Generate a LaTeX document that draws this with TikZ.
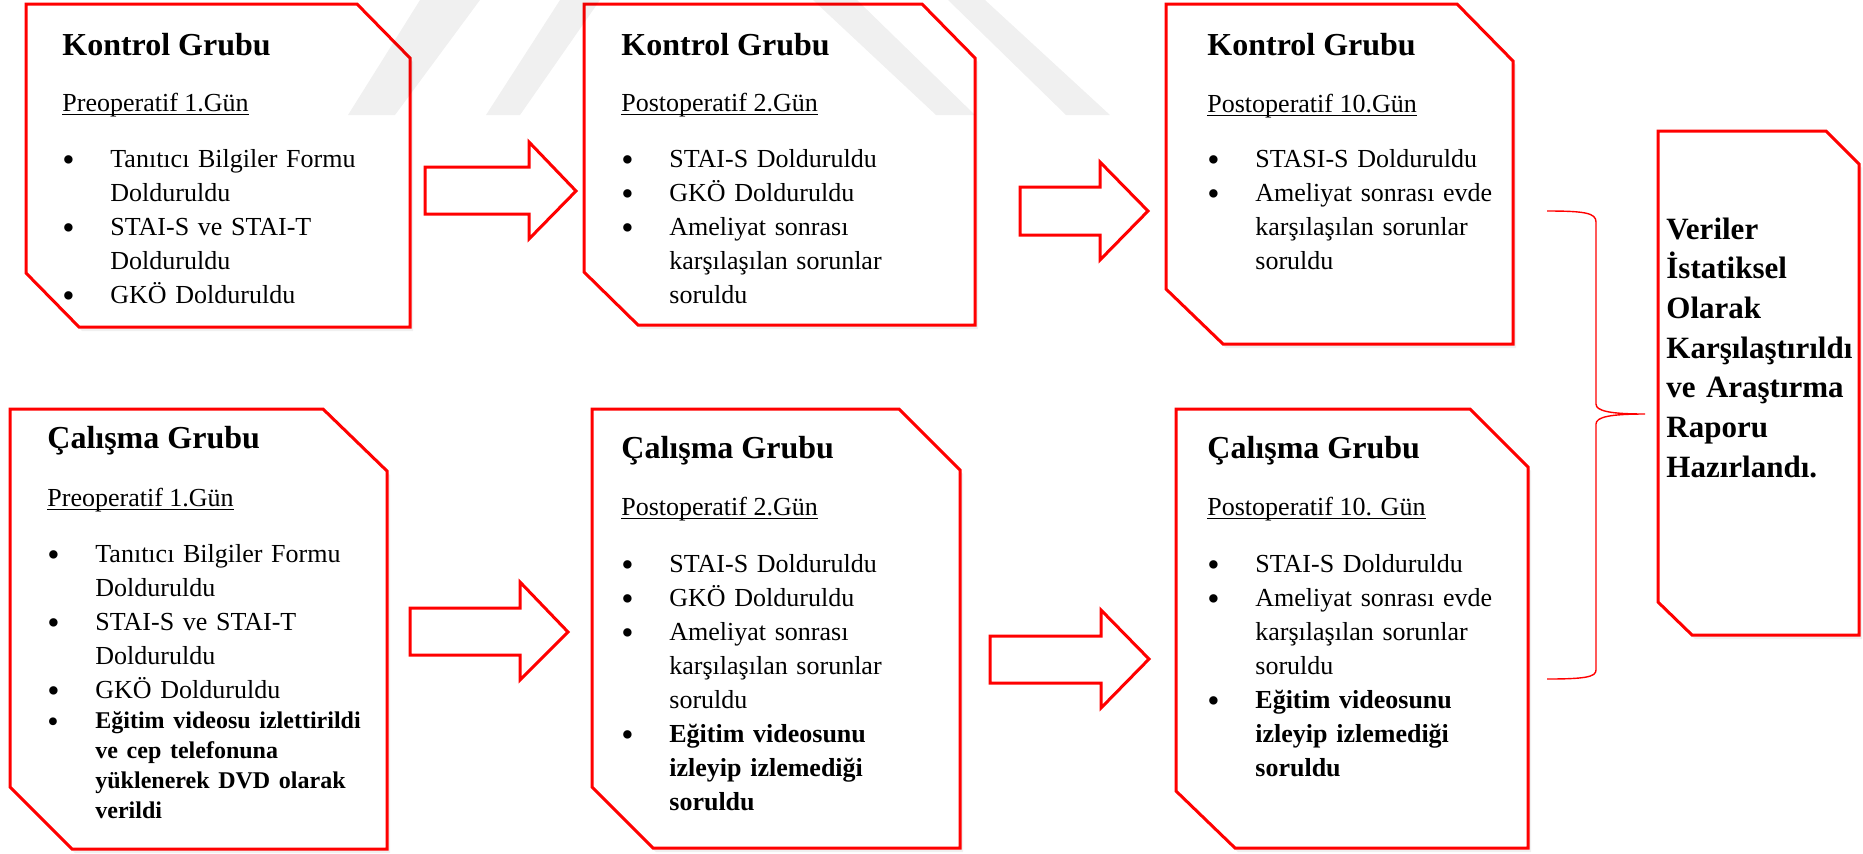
\documentclass[tikz,border=0pt]{standalone}
\usepackage{graphicx}
\usepackage{fontspec}
\setmainfont{Liberation Serif}
\usetikzlibrary{shadows}

\newcommand{\imi}{\raisebox{-2.1pt}{\scalebox{1.35}{\textbullet}}}
\newcommand{\madde}[1]{\hangindent=24pt\hangafter=1\noindent\makebox[24pt][l]{\imi}#1\par}
\newcommand{\kucukmadde}[1]{\begingroup\fontsize{12}{15}\selectfont\madde{\bfseries #1}\endgroup}
\newcommand{\altcizgi}[1]{\setbox0=\hbox{#1}\rlap{\rule[-2pt]{\wd0}{.7pt}}\box0}

\tikzset{
  kart/.style={draw=red, line width=1.5pt, fill=white,
    drop shadow={shadow xshift=1.5pt, shadow yshift=-2pt, opacity=.12}},
  ok/.style={draw=red, line width=1.5pt, fill=white},
  filigran/.style={fill=black, opacity=.06},
  parantez/.style={draw=red, line width=.7pt},
  baslik/.style={anchor=base west, inner sep=0pt, font=\fontsize{16}{19}\selectfont\bfseries},
  tarih/.style={anchor=base west, inner sep=0pt, font=\fontsize{13}{16}\selectfont},
  liste/.style={anchor=base west, inner sep=0pt, align=left, text width=200pt,
    font=\fontsize{13}{17}\selectfont},
  sonuc/.style={anchor=base west, inner sep=0pt, align=left, text width=120pt,
    font=\fontsize{15.5}{19.85}\selectfont\bfseries},
}

\begin{document}
\begin{tikzpicture}[x=0.5pt,y=-0.5pt]
\useasboundingbox (0,0) rectangle (1863,853);
% kartlar
\draw[kart] (26,4)--(357,4)--(410,58)--(410,327)--(79,327)--(26,273)--cycle;
\draw[kart] (584,4)--(922,4)--(975,58)--(975,325)--(638,325)--(584,272)--cycle;
\draw[kart] (1166,4)--(1457,4)--(1513,61)--(1513,344)--(1223,344)--(1166,289)--cycle;
\draw[kart] (10,409)--(323,409)--(387,471)--(387,849)--(72,849)--(10,787)--cycle;
\draw[kart] (592,409)--(899,409)--(960,470)--(960,848)--(653,848)--(592,787)--cycle;
\draw[kart] (1176,409)--(1470,409)--(1528,467)--(1528,848)--(1235,848)--(1176,791)--cycle;
\draw[kart] (1658,131)--(1826,131)--(1859,164)--(1859,635)--(1692,635)--(1658,602)--cycle;
% filigran
\fill[filigran] (348,115)--(395,115)--(480,0)--(420,0)--cycle;
\fill[filigran] (486,115)--(520,115)--(600,0)--(560,0)--cycle;
\fill[filigran] (813,0)--(857,0)--(975,115)--(936,115)--cycle;
\fill[filigran] (948,0)--(985,0)--(1110,115)--(1066,115)--cycle;
% oklar
\draw[ok] (425,167)--(529,167)--(529,142)--(576,191)--(529,239)--(529,214)--(425,214)--cycle;
\draw[ok] (1020,187)--(1100,187)--(1100,162)--(1148,211)--(1100,260)--(1100,235)--(1020,235)--cycle;
\draw[ok] (410,608)--(520,608)--(520,582)--(568,632)--(520,680)--(520,655)--(410,655)--cycle;
\draw[ok] (990,636)--(1101,636)--(1101,610)--(1149,659)--(1101,708)--(1101,683)--(990,683)--cycle;
% parantez
\draw[parantez] (1547,211) .. controls (1585,211) and (1596,213) .. (1596,222)
  -- (1596,404) .. controls (1596,411) and (1610,414) .. (1645,414)
  .. controls (1610,414) and (1596,417) .. (1596,424)
  -- (1596,670) .. controls (1596,677) and (1585,679) .. (1547,679);
%
\node[baslik] (k1b) at (62,55) {Kontrol Grubu};
\node[tarih] (k1t) at (62,111) {\altcizgi{Preoperatif 1.Gün}};
\node[liste] (k1l) at (62,167) {\madde{Tanıtıcı Bilgiler Formu\newline Dolduruldu}
  \madde{STAI-S ve STAI-T\newline Dolduruldu}\madde{GKÖ Dolduruldu}};
%
\node[baslik] (k2b) at (621,55) {Kontrol Grubu};
\node[tarih] (k2t) at (621,111) {\altcizgi{Postoperatif 2.Gün}};
\node[liste] (k2l) at (621,167) {\madde{STAI-S Dolduruldu}\madde{GKÖ Dolduruldu}
  \madde{Ameliyat sonrası\newline karşılaşılan sorunlar\newline soruldu}};
%
\node[baslik] (k3b) at (1207,55) {Kontrol Grubu};
\node[tarih] (k3t) at (1207,112) {\altcizgi{Postoperatif 10.Gün}};
\node[liste] (k3l) at (1207,167) {\madde{STASI-S Dolduruldu}
  \madde{Ameliyat sonrası evde\newline karşılaşılan sorunlar\newline soruldu}};
%
\node[baslik] (c1b) at (47,448) {Çalışma Grubu};
\node[tarih] (c1t) at (47,506) {\altcizgi{Preoperatif 1.Gün}};
\node[liste] (c1l) at (47,562) {\madde{Tanıtıcı Bilgiler Formu\newline Dolduruldu}
  \madde{STAI-S ve STAI-T\newline Dolduruldu}\madde{GKÖ Dolduruldu}
  \kucukmadde{Eğitim videosu izlettirildi\newline ve cep telefonuna\newline
  yüklenerek DVD olarak\newline verildi}};
%
\node[baslik] (c2b) at (621,458) {Çalışma Grubu};
\node[tarih] (c2t) at (621,515) {\altcizgi{Postoperatif 2.Gün}};
\node[liste] (c2l) at (621,572) {\madde{STAI-S Dolduruldu}\madde{GKÖ Dolduruldu}
  \madde{Ameliyat sonrası\newline karşılaşılan sorunlar\newline soruldu}
  \madde{\bfseries Eğitim videosunu\newline izleyip izlemediği\newline soruldu}};
%
\node[baslik] (c3b) at (1207,458) {Çalışma Grubu};
\node[tarih] (c3t) at (1207,515) {\altcizgi{Postoperatif 10. Gün}};
\node[liste] (c3l) at (1207,572) {\madde{STAI-S Dolduruldu}
  \madde{Ameliyat sonrası evde\newline karşılaşılan sorunlar\newline soruldu}
  \madde{\bfseries Eğitim videosunu\newline izleyip izlemediği\newline soruldu}};
%
\node[sonuc] (son) at (1666,239) {Veriler\par İstatiksel\par Olarak\par
  Karşılaştırıldı\par ve Araştırma\par Raporu\par Hazırlandı.};
\end{tikzpicture}
\end{document}
